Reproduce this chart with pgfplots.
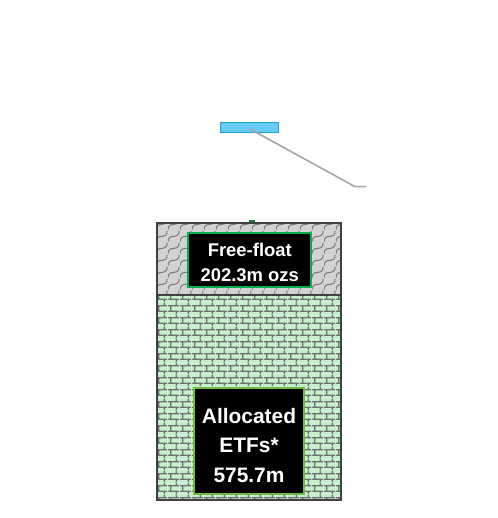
\documentclass[border=0pt]{standalone}
\usepackage{fontspec}
\setmainfont{Liberation Sans}
\usepackage{pgfplots}
\pgfplotsset{compat=1.18}
\usetikzlibrary{patterns}

\definecolor{brickfill}{HTML}{C6EFCE}
\definecolor{mortar}{HTML}{707070}
\definecolor{shinglefill}{HTML}{D2D2D2}
\definecolor{shingleline}{HTML}{7A7A7A}
\definecolor{outline}{HTML}{404040}
\definecolor{ffgreen}{HTML}{00B050}
\definecolor{etfgreen}{HTML}{6FBA44}
\definecolor{tinygreen}{HTML}{1E7A38}
\definecolor{skyfill}{HTML}{66CCF4}
\definecolor{skyline}{HTML}{1BA1DB}
\definecolor{leader}{HTML}{A6A6A6}

% horizontal brick, 12x6 bricks
\pgfdeclarepatternformonly{hbrick}{\pgfpoint{0bp}{0bp}}{\pgfpoint{12bp}{12bp}}{\pgfpoint{12bp}{12bp}}{
  \pgfsetlinewidth{1.4bp}
  \pgfpathmoveto{\pgfpoint{0bp}{3bp}}\pgfpathlineto{\pgfpoint{12bp}{3bp}}
  \pgfpathmoveto{\pgfpoint{0bp}{9bp}}\pgfpathlineto{\pgfpoint{12bp}{9bp}}
  \pgfpathmoveto{\pgfpoint{3bp}{3bp}}\pgfpathlineto{\pgfpoint{3bp}{9bp}}
  \pgfpathmoveto{\pgfpoint{9bp}{9bp}}\pgfpathlineto{\pgfpoint{9bp}{12bp}}
  \pgfpathmoveto{\pgfpoint{9bp}{0bp}}\pgfpathlineto{\pgfpoint{9bp}{3bp}}
  \pgfusepath{stroke}
}
% shingle-like scales
\pgfdeclarepatternformonly{scales}{\pgfpoint{0bp}{0bp}}{\pgfpoint{12bp}{12bp}}{\pgfpoint{12bp}{12bp}}{
  \pgfsetlinewidth{1.1bp}
  \pgfpathmoveto{\pgfpoint{0bp}{0bp}}
  \pgfpathcurveto{\pgfpoint{0bp}{4bp}}{\pgfpoint{2bp}{6bp}}{\pgfpoint{6bp}{6bp}}
  \pgfpathcurveto{\pgfpoint{10bp}{6bp}}{\pgfpoint{12bp}{8bp}}{\pgfpoint{12bp}{12bp}}
  \pgfusepath{stroke}
}

\pgfplotsset{
  chartbox/.style={
    scale only axis, width=498bp, height=500bp,
    at={(0,18bp)}, anchor=south west,
    xmin=0, xmax=498, ymin=0, ymax=1405,
    hide axis, clip=false
  }
}

\begin{document}
\begin{tikzpicture}
\path[use as bounding box] (0,0) rectangle (498bp,518bp);

\begin{axis}[chartbox, ybar stacked, bar width=184]
  % Allocated ETFs
  \addplot[fill=brickfill, draw=outline, line width=2bp,
    postaction={pattern=hbrick, pattern color=mortar}]
    coordinates {(249,575.7)};
  % Free-float
  \addplot[fill=shinglefill, draw=outline, line width=2bp,
    postaction={pattern=scales, pattern color=shingleline}]
    coordinates {(249,202.3)};
  % tiny remainder on top
  \addplot[fill=tinygreen, draw=tinygreen, line width=0.8bp, bar width=5.5]
    coordinates {(252,9)};
\end{axis}

\begin{axis}[chartbox]
  \node[fill=black, draw=ffgreen, line width=2bp, inner sep=0,
    minimum width=123bp, minimum height=54bp]
    at (axis cs:249.8,673.6) {};
  \node[text=white, align=center, inner sep=0,
    font=\bfseries\fontsize{18.5}{25}\selectfont]
    at (axis cs:249.8,667) {Free-float\\202.3m ozs};
  \node[fill=black, draw=etfgreen, line width=2bp, inner sep=0,
    minimum width=110bp, minimum height=106bp]
    at (axis cs:249,167) {};
  \node[text=white, align=center, inner sep=0,
    font=\bfseries\fontsize{21}{29.5}\selectfont]
    at (axis cs:249,154) {Allocated\\ETFs*\\575.7m};
  \node[fill=skyfill, draw=skyline, line width=1bp, inner sep=0,
    minimum width=58bp, minimum height=10.6bp]
    at (axis cs:249,1046.7) {};
  \addplot[leader, line width=1.6bp, no marks]
    coordinates {(250,1042.5) (355,880.4) (366,880.4)};
\end{axis}
\end{tikzpicture}
\end{document}
